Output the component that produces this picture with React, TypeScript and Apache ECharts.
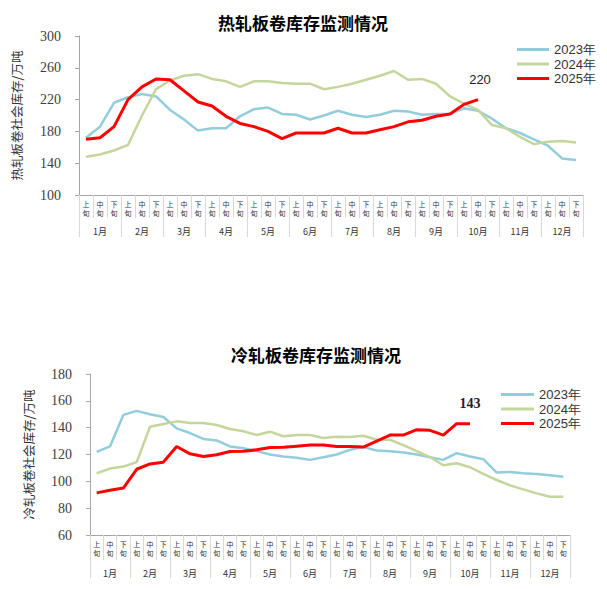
import React, { useEffect, useRef } from "react";
import * as echarts from "echarts";

const periods = ["上旬", "中旬", "下旬"];
const months = ["1月", "2月", "3月", "4月", "5月", "6月", "7月", "8月", "9月", "10月", "11月", "12月"];
const categories = months.flatMap(() => periods);

const seriesNames = ["2023年", "2024年", "2025年"];

const hot2023 = [172, 186, 216, 223, 227, 224, 207, 195, 181, 184, 184, 199, 208, 210, 202, 201, 195, 200, 206, 201, 198, 201, 206, 205, 201, 202, 202, 209, 206, 196, 184, 178, 170, 162, 146, 144];
const hot2024 = [148, 151, 156, 163, 200, 233, 244, 250, 252, 246, 243, 236, 243, 243, 241, 240, 240, 233, 236, 240, 245, 250, 256, 245, 246, 240, 224, 215, 207, 188, 184, 173, 164, 167, 168, 166];
const hot2025 = [170, 172, 186, 220, 236, 246, 245, 231, 217, 212, 199, 190, 186, 180, 171, 178, 178, 178, 184, 178, 178, 182, 186, 192, 194, 199, 202, 214, 220];

const cold2023 = [122, 126, 149.5, 152.5, 150, 148, 139.5, 136, 131.6, 130.5, 126, 124.7, 122.5, 120, 118.5, 117.5, 116, 118, 120, 123.5, 125.5, 123, 122.5, 121.5, 120, 118, 116, 121, 118.5, 116.5, 106.5, 107, 106, 105.5, 104.5, 103.5];
const cold2024 = [106, 109.5, 111, 114.3, 140.7, 142.7, 144.7, 143.5, 143.5, 142, 139, 137.3, 134.6, 137, 133.6, 134.6, 134.6, 132.3, 133.3, 133, 134, 131, 131, 127, 122.5, 118, 112, 113.5, 110.5, 105.5, 101, 97, 94, 91, 88.5, 88.5];
const cold2025 = [91.4, 93.3, 95, 109, 113, 114.3, 126, 120.5, 118.5, 119.8, 122.2, 122.5, 123.5, 125.2, 125.4, 126.2, 127, 127, 126, 126, 125.5, 130, 134.5, 134.5, 138.5, 138, 134.5, 143, 143];

const hotTitle = "热轧板卷库存监测情况";
const coldTitle = "冷轧板卷库存监测情况";
const hotYName = "热轧板卷社会库存/万吨";
const coldYName = "冷轧板卷社会库存/万吨";

const SERIF = "'Liberation Serif', 'Times New Roman', serif";
const SANS = "'Liberation Sans', Arial, sans-serif";
const CJK = "'Noto Sans CJK SC', sans-serif";

const COLORS = ["#92cddc", "#c3d69b", "#ff0000"];
const WIDTHS = [2.5, 2.5, 3];
const AXIS_COLOR = "#a6a6a6";
const SEP_COLOR = "#d9d9d9";

function makeXAxes(gridIndex: number, tickLen: number, monthTickLen: number) {
  return [
    {
      type: "category",
      gridIndex,
      data: categories,
      boundaryGap: true,
      axisLine: { show: true, lineStyle: { color: AXIS_COLOR, width: 1 } },
      axisTick: { show: true, interval: 0, length: tickLen, lineStyle: { color: SEP_COLOR } },
      axisLabel: {
        interval: 0,
        margin: 4,
        fontSize: 7,
        lineHeight: 9,
        color: "#333",
        fontFamily: CJK,
        formatter: (v: string) => v.split("").join("\n"),
      },
    },
    {
      type: "category",
      gridIndex,
      data: months,
      position: "bottom",
      offset: tickLen,
      boundaryGap: true,
      axisLine: { show: false },
      axisTick: { show: true, interval: 0, length: monthTickLen, lineStyle: { color: SEP_COLOR } },
      axisLabel: { interval: 0, margin: 9, fontSize: 9, color: "#333", fontFamily: CJK },
    },
  ];
}

function makeYAxis(gridIndex: number, min: number, max: number, interval: number, name: string, nameGap: number) {
  return {
    type: "value",
    gridIndex,
    min,
    max,
    interval,
    name,
    nameLocation: "middle",
    nameGap,
    nameTextStyle: { fontFamily: CJK, fontSize: 12.5, color: "#333" },
    splitLine: { show: false },
    axisLine: { show: true, lineStyle: { color: AXIS_COLOR, width: 1 } },
    axisTick: { show: true, length: 4, lineStyle: { color: AXIS_COLOR } },
    axisLabel: { margin: 18, fontSize: 14, color: "#404040", fontFamily: SERIF },
  };
}

function makeSeries(axisIndex: number, data: number[][], labelStyle: any) {
  return data.map((d, k) => {
    const s: any = {
      type: "line",
      name: seriesNames[k],
      xAxisIndex: axisIndex * 2,
      yAxisIndex: axisIndex,
      data: d,
      symbol: "none",
      smooth: false,
      z: 2 + k,
      lineStyle: { width: WIDTHS[k], color: COLORS[k] },
      itemStyle: { color: COLORS[k] },
    };
    if (k === 2) {
      const last = d.length - 1;
      s.markPoint = {
        symbol: "circle",
        symbolSize: 1,
        itemStyle: { color: "rgba(0,0,0,0)" },
        data: [{ coord: [last, d[last]], value: d[last] }],
        label: { show: true, position: "top", formatter: "{c}", ...labelStyle },
      };
    }
    return s;
  });
}

function makeLegend(left: number, top: number, itemWidth: number) {
  return {
    orient: "vertical",
    left,
    top,
    itemWidth,
    itemHeight: 3,
    itemGap: 1.5,
    icon: "rect",
    selectedMode: false,
    data: seriesNames,
    textStyle: { fontFamily: SANS, fontSize: 13, color: "#333", lineHeight: 13 },
  };
}

export default function App() {
  const ref = useRef<HTMLDivElement>(null);
  useEffect(() => {
    if (!ref.current) return;
    const chart = echarts.init(ref.current, undefined, { renderer: "svg" });
    const option: any = {
      animation: false,
      backgroundColor: "#ffffff",
      grid: [
        { left: 79, right: 24, top: 36, height: 159 },
        { left: 90, right: 37, top: 374, height: 161 },
      ],
      xAxis: [...makeXAxes(0, 23, 19), ...makeXAxes(1, 25, 18)],
      yAxis: [
        makeYAxis(0, 100, 300, 40, hotYName, 56),
        makeYAxis(1, 60, 180, 20, coldYName, 55),
      ],
      legend: [makeLegend(512, 38, 32), makeLegend(496, 383, 33)],
      graphic: [
        {
          type: "text",
          style: {
            text: hotTitle,
            x: 303,
            y: 22,
            textAlign: "center",
            textVerticalAlign: "middle",
            align: "center",
            verticalAlign: "middle",
            font: `bold 17px ${CJK}`,
            fill: "#000",
          },
        },
        {
          type: "text",
          style: {
            text: coldTitle,
            x: 316,
            y: 354,
            textAlign: "center",
            textVerticalAlign: "middle",
            align: "center",
            verticalAlign: "middle",
            font: `bold 17px ${CJK}`,
            fill: "#000",
          },
        },
      ],
      series: [
        ...makeSeries(0, [hot2023, hot2024, hot2025], {
          distance: 13,
          offset: [2, 0],
          fontFamily: SANS,
          fontSize: 13,
          color: "#222",
        }),
        ...makeSeries(1, [cold2023, cold2024, cold2025], {
          distance: 13,
          fontFamily: SERIF,
          fontSize: 14,
          fontWeight: "bold",
          color: "#222",
        }),
      ],
    };
    chart.setOption(option);
    return () => chart.dispose();
  }, []);
  return (
    <div
      ref={ref}
      style={{ position: "absolute", left: 0, top: 0, width: 607, height: 589 }}
    />
  );
}
